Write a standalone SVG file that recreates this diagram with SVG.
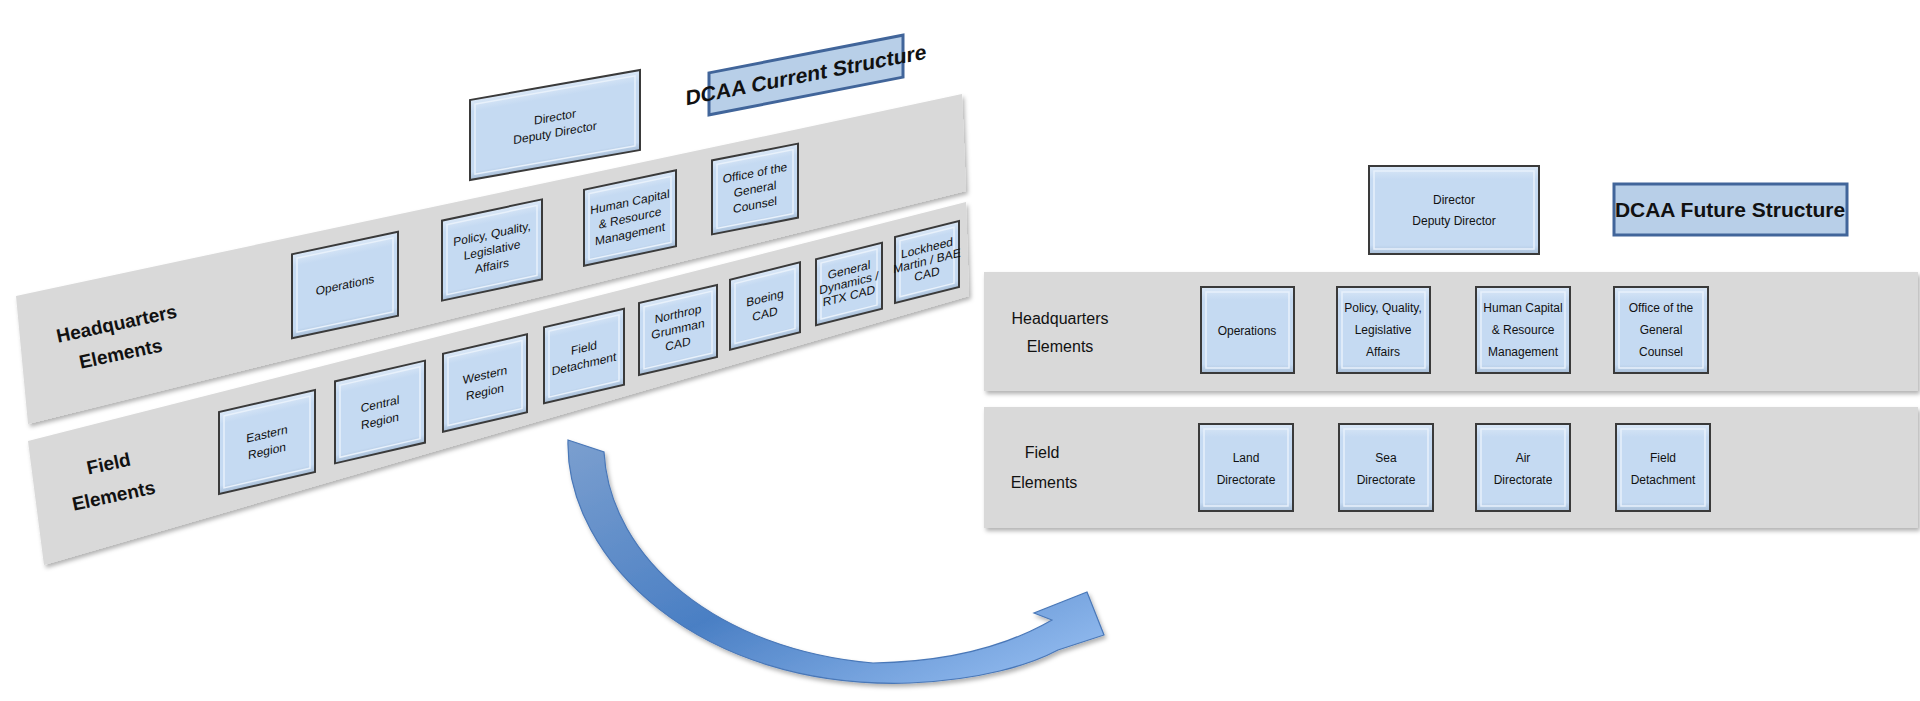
<svg xmlns="http://www.w3.org/2000/svg" width="1920" height="701" viewBox="0 0 1920 701">
<style>
.band{fill:#d9d9d9;filter:url(#sh)}
.box{fill:url(#bg);stroke:#3a3a3a;stroke-width:2}
.in{fill:none;stroke:#e8f1fb;stroke-width:1.5}
.t{font-family:"Liberation Sans Narrow","Liberation Sans",Arial,sans-serif;font-size:12px;fill:#111;text-anchor:middle}
.lb{font-family:"Liberation Sans Narrow","Liberation Sans",Arial,sans-serif;font-size:19px;font-weight:bold;fill:#111;text-anchor:middle}
.lr{font-family:"Liberation Sans Narrow","Liberation Sans",Arial,sans-serif;font-size:16px;fill:#111;text-anchor:middle}
.title{fill:#b8cfe8;stroke:#41659a;stroke-width:3}
.tt{font-family:"Liberation Sans Narrow","Liberation Sans",Arial,sans-serif;font-size:21px;font-weight:bold;fill:#111;text-anchor:middle}
</style>
<defs>
<linearGradient id="bg" x1="0" y1="0" x2="0" y2="1"><stop offset="0" stop-color="#dbe8f7"/><stop offset="0.15" stop-color="#c5daf2"/><stop offset="0.9" stop-color="#c5daf2"/><stop offset="1" stop-color="#a9bfd8"/></linearGradient>
<linearGradient id="ag" x1="0" y1="0" x2="1" y2="1"><stop offset="0" stop-color="#7b9fcf"/><stop offset="0.5" stop-color="#4a7fc4"/><stop offset="1" stop-color="#9cc3f5"/></linearGradient>
<filter id="sh" x="-5%" y="-10%" width="110%" height="130%"><feDropShadow dx="2" dy="3" stdDeviation="2" flood-color="#000" flood-opacity="0.3"/></filter>
</defs>
<!-- left panel bands -->
<polygon class="band" points="16,296 962,94 966,191 28,424"/>
<polygon class="band" points="28,441 966,202 969,296 44,565"/>
<text class="lb" transform="translate(118,330) rotate(-12)">Headquarters</text>
<text class="lb" transform="translate(122,360) rotate(-12)">Elements</text>
<text class="lb" transform="translate(110,470) rotate(-12)">Field</text>
<text class="lb" transform="translate(115,502) rotate(-12)">Elements</text>
<g id="cur-title" transform="translate(806,75) skewY(-11)"><rect class="title" x="-97" y="-21" width="194" height="42"/><text class="tt" y="7">DCAA Current Structure</text></g>
<g id="cur-dir" transform="translate(555,125) skewY(-10)"><rect class="box" x="-85" y="-40" width="170" height="80"/><rect class="in" x="-80" y="-35" width="160" height="70"/><text class="t" y="-4">Director</text><text class="t" y="12">Deputy Director</text></g>
<g id="cur-ops" transform="translate(345,285) skewY(-12)"><rect class="box" x="-53" y="-42" width="106" height="84"/><rect class="in" x="-48" y="-37" width="96" height="74"/><text class="t" y="4">Operations</text></g>
<g id="cur-pol" transform="translate(492,250) skewY(-12)"><rect class="box" x="-50" y="-40" width="100" height="80"/><rect class="in" x="-45" y="-35" width="90" height="70"/><text class="t" y="-12">Policy, Quality,</text><text class="t" y="4">Legislative</text><text class="t" y="20">Affairs</text></g>
<g id="cur-hum" transform="translate(630,218) skewY(-12)"><rect class="box" x="-46" y="-38" width="92" height="76"/><rect class="in" x="-41" y="-33" width="82" height="66"/><text class="t" y="-12" font-size="11">Human Capital</text><text class="t" y="4" font-size="11">&amp; Resource</text><text class="t" y="20" font-size="11">Management</text></g>
<g id="cur-off" transform="translate(755,189) skewY(-11)"><rect class="box" x="-43" y="-37" width="86" height="74"/><rect class="in" x="-38" y="-32" width="76" height="64"/><text class="t" y="-12" font-size="11">Office of the</text><text class="t" y="4" font-size="11">General</text><text class="t" y="20" font-size="11">Counsel</text></g>
<g id="cur-east" transform="translate(267,442) skewY(-13)"><rect class="box" x="-48" y="-41" width="96" height="82"/><rect class="in" x="-43" y="-36" width="86" height="72"/><text class="t" y="-4">Eastern</text><text class="t" y="13">Region</text></g>
<g id="cur-cent" transform="translate(380,412) skewY(-13)"><rect class="box" x="-45" y="-41" width="90" height="82"/><rect class="in" x="-40" y="-36" width="80" height="72"/><text class="t" y="-4">Central</text><text class="t" y="13">Region</text></g>
<g id="cur-west" transform="translate(485,383) skewY(-13)"><rect class="box" x="-42" y="-39" width="84" height="78"/><rect class="in" x="-37" y="-34" width="74" height="68"/><text class="t" y="-4">Western</text><text class="t" y="13">Region</text></g>
<g id="cur-fd" transform="translate(584,356) skewY(-13)"><rect class="box" x="-40" y="-38" width="80" height="76"/><rect class="in" x="-35" y="-33" width="70" height="66"/><text class="t" y="-4" font-size="11">Field</text><text class="t" y="12" font-size="11">Detachment</text></g>
<g id="cur-ng" transform="translate(678,330) skewY(-13)"><rect class="box" x="-39" y="-36" width="78" height="72"/><rect class="in" x="-34" y="-31" width="68" height="62"/><text class="t" y="-12" font-size="11">Northrop</text><text class="t" y="3" font-size="11">Grumman</text><text class="t" y="18" font-size="11">CAD</text></g>
<g id="cur-boe" transform="translate(765,306) skewY(-14)"><rect class="box" x="-35" y="-35" width="70" height="70"/><rect class="in" x="-30" y="-30" width="60" height="60"/><text class="t" y="-4" font-size="11">Boeing</text><text class="t" y="12" font-size="11">CAD</text></g>
<g id="cur-gd" transform="translate(849,284) skewY(-14)"><rect class="box" x="-33" y="-33" width="66" height="66"/><rect class="in" x="-28" y="-28" width="56" height="56"/><text class="t" y="-10" font-size="10">General</text><text class="t" y="3" font-size="10">Dynamics /</text><text class="t" y="16" font-size="10">RTX CAD</text></g>
<g id="cur-lm" transform="translate(927,262) skewY(-14)"><rect class="box" x="-32" y="-33" width="64" height="66"/><rect class="in" x="-27" y="-28" width="54" height="56"/><text class="t" y="-10" font-size="10">Lockheed</text><text class="t" y="3" font-size="10">Martin / BAE</text><text class="t" y="16" font-size="10">CAD</text></g>
<!-- connector -->
<g id="connectors">
<path d="M568,440 C565,560 700,690 910,683 C980,680 1030,665 1058,650 L1104,635 L1087,592 L1034,613 L1052,620 C1000,650 940,662 873,663 C720,650 610,560 604,452 Z" fill="url(#ag)" stroke="#4a78b8" stroke-width="1.2" filter="url(#sh)"/>
</g>
<!-- right panel -->
<rect class="band" x="984" y="272" width="934" height="119"/>
<rect class="band" x="984" y="407" width="934" height="121"/>
<text class="lr" x="1060" y="324">Headquarters</text>
<text class="lr" x="1060" y="352">Elements</text>
<text class="lr" x="1042" y="458">Field</text>
<text class="lr" x="1044" y="488">Elements</text>
<g id="fut-title"><rect class="title" x="1614" y="184" width="233" height="51"/><text class="tt" x="1730" y="217">DCAA Future Structure</text></g>
<g id="fut-dir"><rect class="box" x="1369" y="166" width="170" height="88"/><rect class="in" x="1374" y="171" width="160" height="78"/><text class="t" x="1454" y="204">Director</text><text class="t" x="1454" y="225">Deputy Director</text></g>
<g id="fut-ops"><rect class="box" x="1201" y="287" width="93" height="86"/><rect class="in" x="1206" y="292" width="83" height="76"/><text class="t" x="1247" y="335">Operations</text></g>
<g id="fut-pol"><rect class="box" x="1337" y="287" width="93" height="86"/><rect class="in" x="1342" y="292" width="83" height="76"/><text class="t" x="1383" y="312">Policy, Quality,</text><text class="t" x="1383" y="334">Legislative</text><text class="t" x="1383" y="356">Affairs</text></g>
<g id="fut-hum"><rect class="box" x="1476" y="287" width="94" height="86"/><rect class="in" x="1481" y="292" width="84" height="76"/><text class="t" x="1523" y="312">Human Capital</text><text class="t" x="1523" y="334">&amp; Resource</text><text class="t" x="1523" y="356">Management</text></g>
<g id="fut-off"><rect class="box" x="1614" y="287" width="94" height="86"/><rect class="in" x="1619" y="292" width="84" height="76"/><text class="t" x="1661" y="312">Office of the</text><text class="t" x="1661" y="334">General</text><text class="t" x="1661" y="356">Counsel</text></g>
<g id="fut-land"><rect class="box" x="1199" y="424" width="94" height="87"/><rect class="in" x="1204" y="429" width="84" height="77"/><text class="t" x="1246" y="462">Land</text><text class="t" x="1246" y="484">Directorate</text></g>
<g id="fut-sea"><rect class="box" x="1339" y="424" width="94" height="87"/><rect class="in" x="1344" y="429" width="84" height="77"/><text class="t" x="1386" y="462">Sea</text><text class="t" x="1386" y="484">Directorate</text></g>
<g id="fut-air"><rect class="box" x="1476" y="424" width="94" height="87"/><rect class="in" x="1481" y="429" width="84" height="77"/><text class="t" x="1523" y="462">Air</text><text class="t" x="1523" y="484">Directorate</text></g>
<g id="fut-fd"><rect class="box" x="1616" y="424" width="94" height="87"/><rect class="in" x="1621" y="429" width="84" height="77"/><text class="t" x="1663" y="462">Field</text><text class="t" x="1663" y="484">Detachment</text></g>
</svg>
